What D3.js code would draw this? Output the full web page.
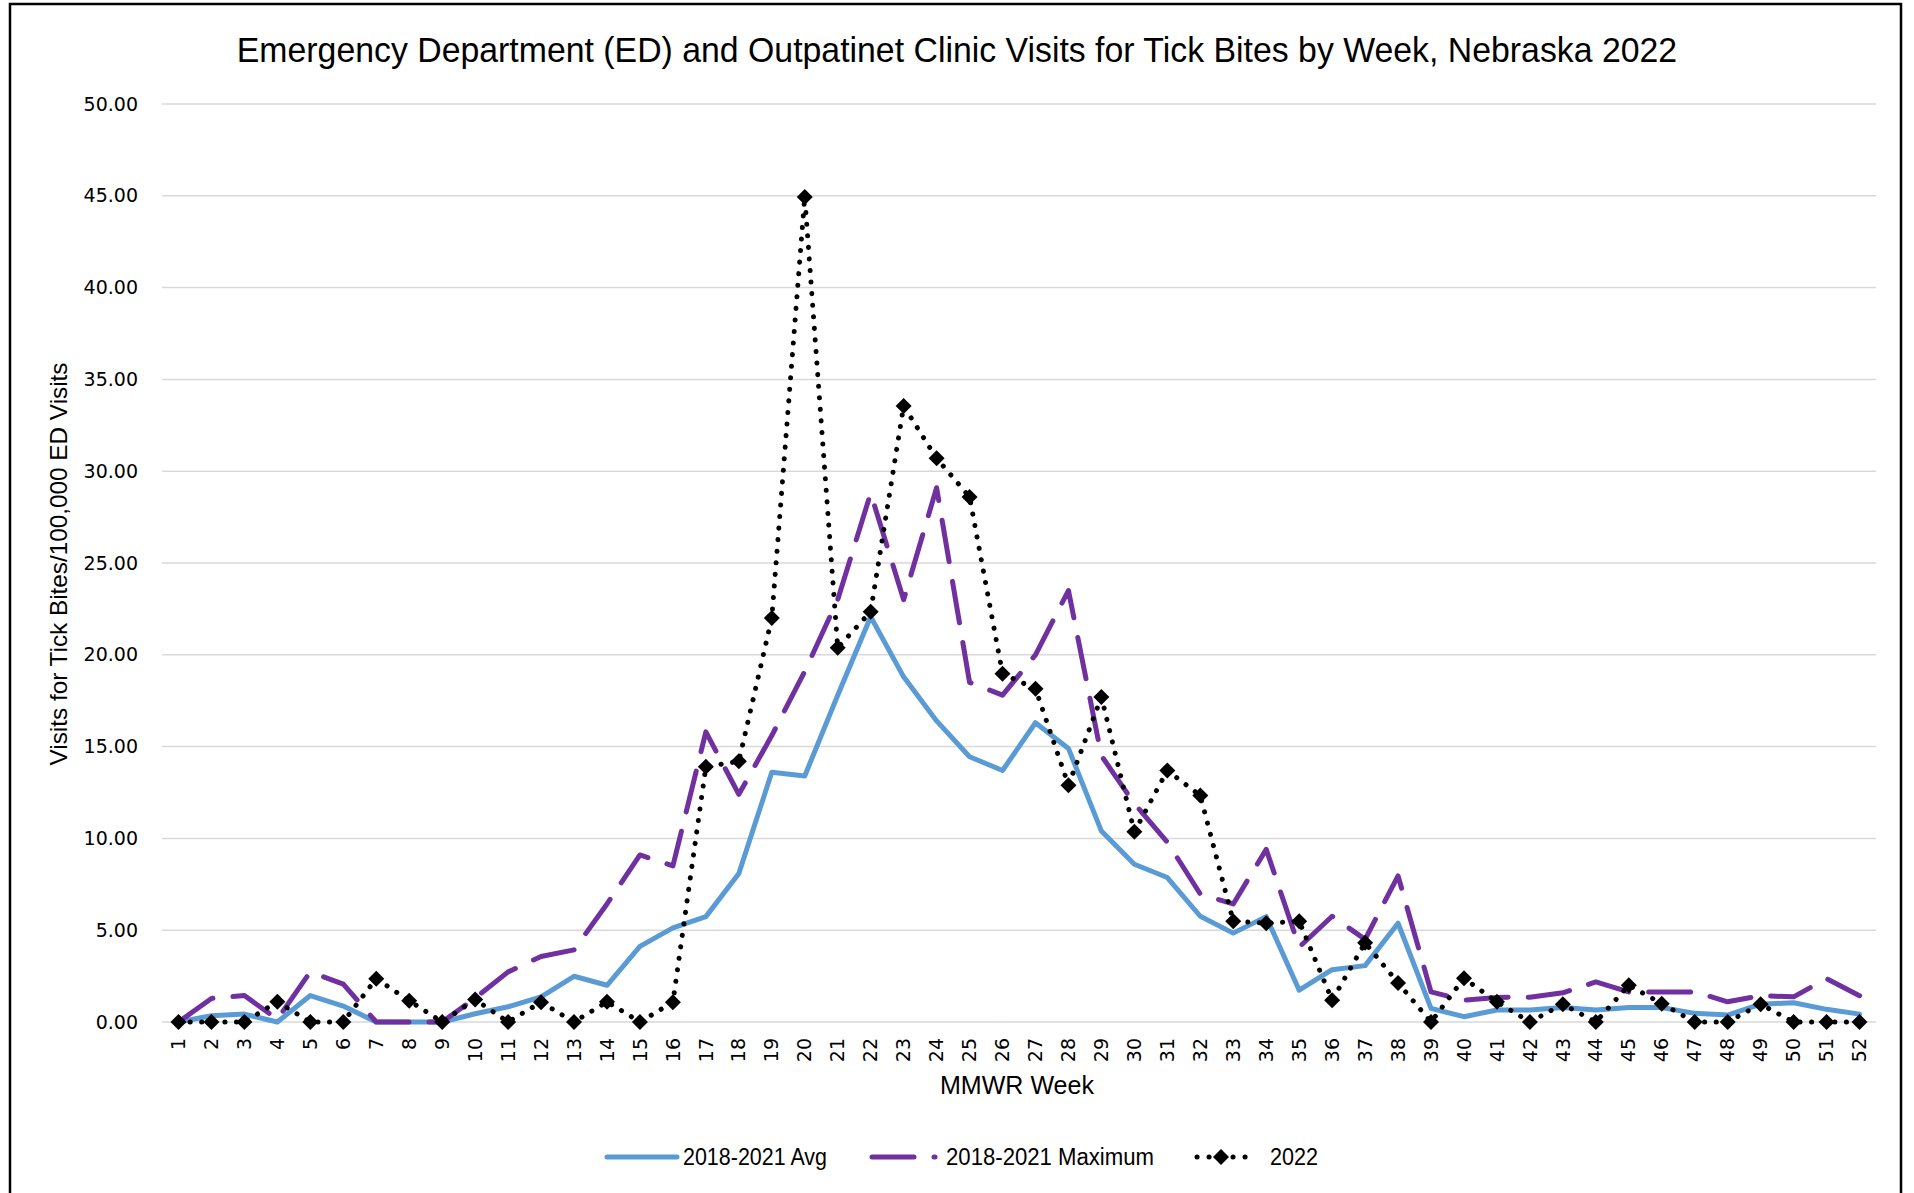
<!DOCTYPE html>
<meta charset='utf-8'>
<style>
body {
    margin: 0;
    background: #fff;
}

.grid line {
    stroke: #d9d9d9;
    stroke-width: 1.5px;
}

.tick-label {
    font-family: 'DejaVu Sans', sans-serif;
    font-size: 19px;
    fill: #000;
}

.calibri {
    font-family: 'Liberation Sans Narrow', 'Liberation Sans', sans-serif;
    fill: #000;
}
</style>

<body>
    <div class='chart'></div>
    <script src='https://d3js.org/d3.v7.min.js'></script>
    <script>
    var weeks = d3.range(1, 53);

    var avgValues = [0, 0.34, 0.43, 0, 1.44, 0.87, 0, 0, 0, 0.45, 0.83, 1.37, 2.49, 2.0, 4.12, 5.13,
        5.74, 8.09, 13.6, 13.4, 17.8, 22.07, 18.8, 16.4, 14.45, 13.7, 16.3, 14.9, 10.4, 8.59, 7.87, 5.76,
        4.84, 5.74, 1.73, 2.85, 3.07, 5.38, 0.74, 0.29, 0.65, 0.65, 0.79, 0.65, 0.79, 0.79, 0.47, 0.38,
        0.97, 1.05, 0.69, 0.43];

    var maxValues = [0, 1.28, 1.44, 0.15, 2.73, 2.06, 0, 0, 0, 1.3, 2.73, 3.57, 3.93, 6.43, 9.1, 8.5,
        15.8, 12.4, 15.6, 19.1, 23.0, 28.8, 23.0, 29.1, 18.5, 17.8, 20.0, 23.5, 14.5, 11.9, 9.8, 6.97,
        6.43, 9.4, 4.08, 5.76, 4.5, 7.96, 1.64, 1.19, 1.34, 1.35, 1.59, 2.18, 1.64, 1.64, 1.64, 1.1,
        1.43, 1.37, 2.36, 1.43];

    var values2022 = [0, 0, 0, 1.1, 0, 0, 2.36, 1.16, 0, 1.23, 0, 1.08, 0, 1.1, 0, 1.08,
        13.9, 14.2, 22.0, 44.94, 20.38, 22.35, 33.55, 30.7, 28.6, 18.97, 18.15, 12.9, 17.7, 10.36, 13.7, 12.33,
        5.49, 5.38, 5.49, 1.19, 4.31, 2.13, 0, 2.38, 1.1, 0, 0.97, 0, 2.0, 1.0, 0, 0,
        0.97, 0, 0, 0];

    var yTicks = [0, 5, 10, 15, 20, 25, 30, 35, 40, 45, 50];

    var seriesNames = ['2018-2021 Avg', '2018-2021 Maximum', '2022'];

    var width = 1914,
        height = 1193;

    var svg = d3.select('.chart').append('svg')
        .attr('width', width)
        .attr('height', height);

    // chart frame
    svg.append('rect')
        .attr('x', 10)
        .attr('y', 4)
        .attr('width', 1891)
        .attr('height', 1200)
        .attr('fill', 'none')
        .attr('stroke', '#000')
        .attr('stroke-width', 2.5);

    var x = d3.scalePoint()
        .domain(weeks)
        .range([162, 1876])
        .padding(0.5);

    var y = d3.scaleLinear()
        .domain([0, 50])
        .range([1022, 104]);

    svg.append('g')
        .attr('class', 'grid')
        .selectAll('line')
        .data(yTicks)
        .enter().append('line')
        .attr('x1', 162)
        .attr('x2', 1876)
        .attr('y1', function(d) { return y(d); })
        .attr('y2', function(d) { return y(d); });

    svg.append('g')
        .selectAll('text')
        .data(yTicks)
        .enter().append('text')
        .attr('class', 'tick-label')
        .attr('x', 138)
        .attr('y', function(d) { return y(d); })
        .attr('dy', '0.35em')
        .attr('text-anchor', 'end')
        .text(function(d) { return d3.format('.2f')(d); });

    svg.append('g')
        .selectAll('text')
        .data(weeks)
        .enter().append('text')
        .attr('class', 'tick-label')
        .attr('transform', function(d) { return 'translate(' + x(d) + ',1038) rotate(-90)'; })
        .attr('dy', '0.35em')
        .attr('text-anchor', 'end')
        .text(function(d) { return d; });

    // titles
    svg.append('text')
        .attr('class', 'calibri')
        .attr('x', 957)
        .attr('y', 62)
        .attr('text-anchor', 'middle')
        .attr('font-size', 35)
        .attr('textLength', 1180 * 1914 / 1568)
        .attr('lengthAdjust', 'spacingAndGlyphs')
        .text('Emergency Department (ED) and Outpatinet Clinic Visits for Tick Bites by Week, Nebraska 2022');

    svg.append('text')
        .attr('class', 'calibri')
        .attr('transform', 'translate(67,564) rotate(-90)')
        .attr('text-anchor', 'middle')
        .attr('font-size', 24)
        .attr('textLength', 403)
        .attr('lengthAdjust', 'spacingAndGlyphs')
        .text('Visits for Tick Bites/100,000 ED Visits');

    svg.append('text')
        .attr('class', 'calibri')
        .attr('x', 1017)
        .attr('y', 1094)
        .attr('text-anchor', 'middle')
        .attr('font-size', 25)
        .attr('textLength', 154)
        .attr('lengthAdjust', 'spacingAndGlyphs')
        .text('MMWR Week');

    // series lines
    function lineFor(vals) {
        return d3.line()
            .x(function(d, i) { return x(weeks[i]); })
            .y(function(d) { return y(d); })(vals);
    }

    svg.append('path')
        .attr('d', lineFor(avgValues))
        .attr('fill', 'none')
        .attr('stroke', '#5b9bd5')
        .attr('stroke-width', 5)
        .attr('stroke-linejoin', 'round')
        .attr('stroke-linecap', 'round');

    svg.append('path')
        .attr('d', lineFor(maxValues))
        .attr('fill', 'none')
        .attr('stroke', '#7030a0')
        .attr('stroke-width', 5)
        .attr('stroke-dasharray', '42,20')
        .attr('stroke-linejoin', 'round')
        .attr('stroke-linecap', 'round');

    svg.append('path')
        .attr('d', lineFor(values2022))
        .attr('fill', 'none')
        .attr('stroke', '#000')
        .attr('stroke-width', 5)
        .attr('stroke-dasharray', '0.1,11.5')
        .attr('stroke-linejoin', 'round')
        .attr('stroke-linecap', 'round');

    function diamond(cx, cy) {
        var r = 8;
        return 'M' + cx + ',' + (cy - r) + 'L' + (cx + r) + ',' + cy +
            'L' + cx + ',' + (cy + r) + 'L' + (cx - r) + ',' + cy + 'Z';
    }

    svg.append('g')
        .selectAll('path')
        .data(values2022)
        .enter().append('path')
        .attr('d', function(d, i) { return diamond(x(weeks[i]), y(d)); })
        .attr('fill', '#000');

    // legend
    var legendY = 1157;
    var lg = svg.append('g');

    lg.append('line')
        .attr('x1', 607).attr('x2', 677)
        .attr('y1', legendY).attr('y2', legendY)
        .attr('stroke', '#5b9bd5')
        .attr('stroke-width', 5)
        .attr('stroke-linecap', 'round');
    lg.append('text')
        .attr('class', 'calibri')
        .attr('x', 683).attr('y', legendY)
        .attr('dy', '0.35em')
        .attr('font-size', 23)
        .attr('textLength', 144)
        .attr('lengthAdjust', 'spacingAndGlyphs')
        .text(seriesNames[0]);

    lg.append('line')
        .attr('x1', 872).attr('x2', 935)
        .attr('y1', legendY).attr('y2', legendY)
        .attr('stroke', '#7030a0')
        .attr('stroke-width', 5)
        .attr('stroke-dasharray', '42,20')
        .attr('stroke-linecap', 'round');
    lg.append('text')
        .attr('class', 'calibri')
        .attr('x', 946).attr('y', legendY)
        .attr('dy', '0.35em')
        .attr('font-size', 23)
        .attr('textLength', 208)
        .attr('lengthAdjust', 'spacingAndGlyphs')
        .text(seriesNames[1]);

    lg.append('line')
        .attr('x1', 1197).attr('x2', 1246)
        .attr('y1', legendY).attr('y2', legendY)
        .attr('stroke', '#000')
        .attr('stroke-width', 5)
        .attr('stroke-dasharray', '0.1,11.9')
        .attr('stroke-linecap', 'round');
    lg.append('path')
        .attr('d', diamond(1221, legendY))
        .attr('fill', '#000');
    lg.append('text')
        .attr('class', 'calibri')
        .attr('x', 1270).attr('y', legendY)
        .attr('dy', '0.35em')
        .attr('font-size', 23)
        .attr('textLength', 48)
        .attr('lengthAdjust', 'spacingAndGlyphs')
        .text(seriesNames[2]);
    </script>
</body>
